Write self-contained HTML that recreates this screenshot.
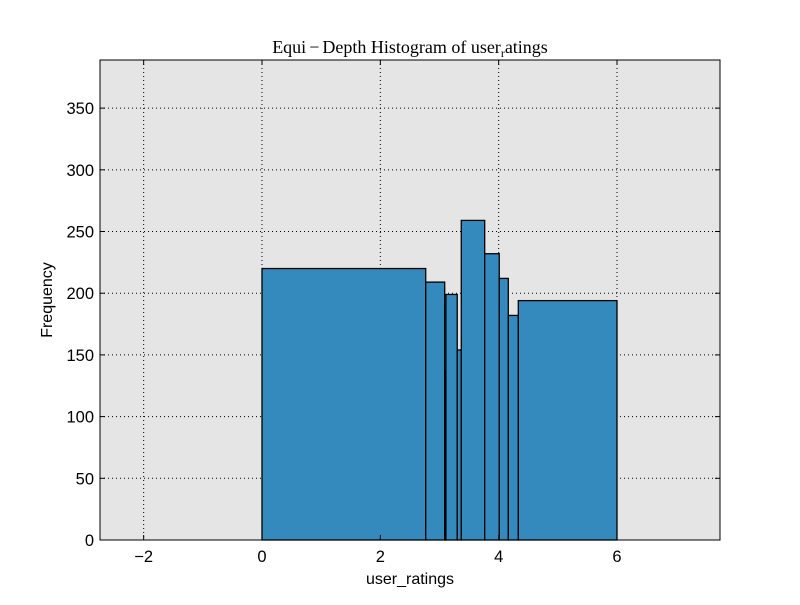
<!DOCTYPE html>
<html><head><meta charset="utf-8"><style>
body{margin:0;background:#fff;}
svg text{font-family:"Liberation Sans",sans-serif;}
</style></head><body>
<svg id="chart" width="800" height="600" xmlns="http://www.w3.org/2000/svg">
<rect width="800" height="600" fill="#fff"/>
<rect id="plotbg" x="100" y="60" width="620" height="480" fill="#e5e5e5"/>
<g id="grid"></g>
<g id="bars"></g>
<rect x="100" y="60" width="620" height="480" fill="none" stroke="#000" stroke-width="1"/>
<g id="ticks"></g>
<text x="410" y="53" text-anchor="middle" style="font-family:'Liberation Serif',serif" font-size="18">Equi<tspan dx="3">−</tspan><tspan dx="3">Depth Histogram of user</tspan><tspan font-size="12" dy="4">r</tspan><tspan dy="-4">atings</tspan></text>
<text x="410" y="584" text-anchor="middle" font-size="16">user_ratings</text>
<text x="52" y="300" text-anchor="middle" font-size="16" transform="rotate(-90 52 300)">Frequency</text>
</svg>
<script>
const binEdges=[0,2.767,3.088,3.108,3.30,3.368,3.764,4.010,4.163,4.332,6.0];
const counts=[220,209,137,199,154,259,232,212,182,194];
const xTicks=[-2,0,2,4,6];
const yTicks=[0,50,100,150,200,250,300,350];
const NS="http://www.w3.org/2000/svg";
const X0=100,X1=720,Y0=540,Y1=60,xmin=-2.738,xmax=7.741,ymin=0,ymax=389;
const sx=v=>X0+(v-xmin)/(xmax-xmin)*(X1-X0);
const sy=v=>Y0-(v-ymin)/(ymax-ymin)*(Y0-Y1);
function mk(t,a,p){const e=document.createElementNS(NS,t);for(const k in a)e.setAttribute(k,a[k]);p.appendChild(e);return e;}
const grid=document.getElementById('grid'),bars=document.getElementById('bars'),ticks=document.getElementById('ticks');
xTicks.forEach(v=>{
 const gl=mk('line',{x1:sx(v),x2:sx(v),y1:Y1,y2:Y0,stroke:'#000','stroke-dasharray':'1,3','stroke-width':1},grid);
 
 
 mk('line',{x1:sx(v),x2:sx(v),y1:Y0,y2:Y0-5,stroke:'#000'},ticks);
 mk('line',{x1:sx(v),x2:sx(v),y1:Y1,y2:Y1+5,stroke:'#000'},ticks);
 const t=mk('text',{x:sx(v),y:Y0+22,'text-anchor':'middle','font-size':16.5},ticks);
 t.textContent=v<0?'−'+Math.abs(v):String(v);
 
 
});
yTicks.forEach(v=>{
 if(v>0){const gl=mk('line',{x1:X0,x2:X1,y1:sy(v),y2:sy(v),stroke:'#000','stroke-dasharray':'1,3','stroke-width':1},grid);
 
 }
 mk('line',{x1:X0,x2:X0+5,y1:sy(v),y2:sy(v),stroke:'#000'},ticks);
 mk('line',{x1:X1,x2:X1-5,y1:sy(v),y2:sy(v),stroke:'#000'},ticks);
 const t=mk('text',{x:X0-6,y:sy(v)+6,'text-anchor':'end','font-size':16.5},ticks);
 t.textContent=String(v);
 
 
});
counts.forEach((c,i)=>{
 const x=sx(binEdges[i]),w=sx(binEdges[i+1])-x;
 const r=mk('rect',{x:x,y:sy(c),width:w,height:Y0-sy(c),fill:'#348abd',stroke:'#000','stroke-width':1.3},bars);
 
 
});
</script>
</body></html>
